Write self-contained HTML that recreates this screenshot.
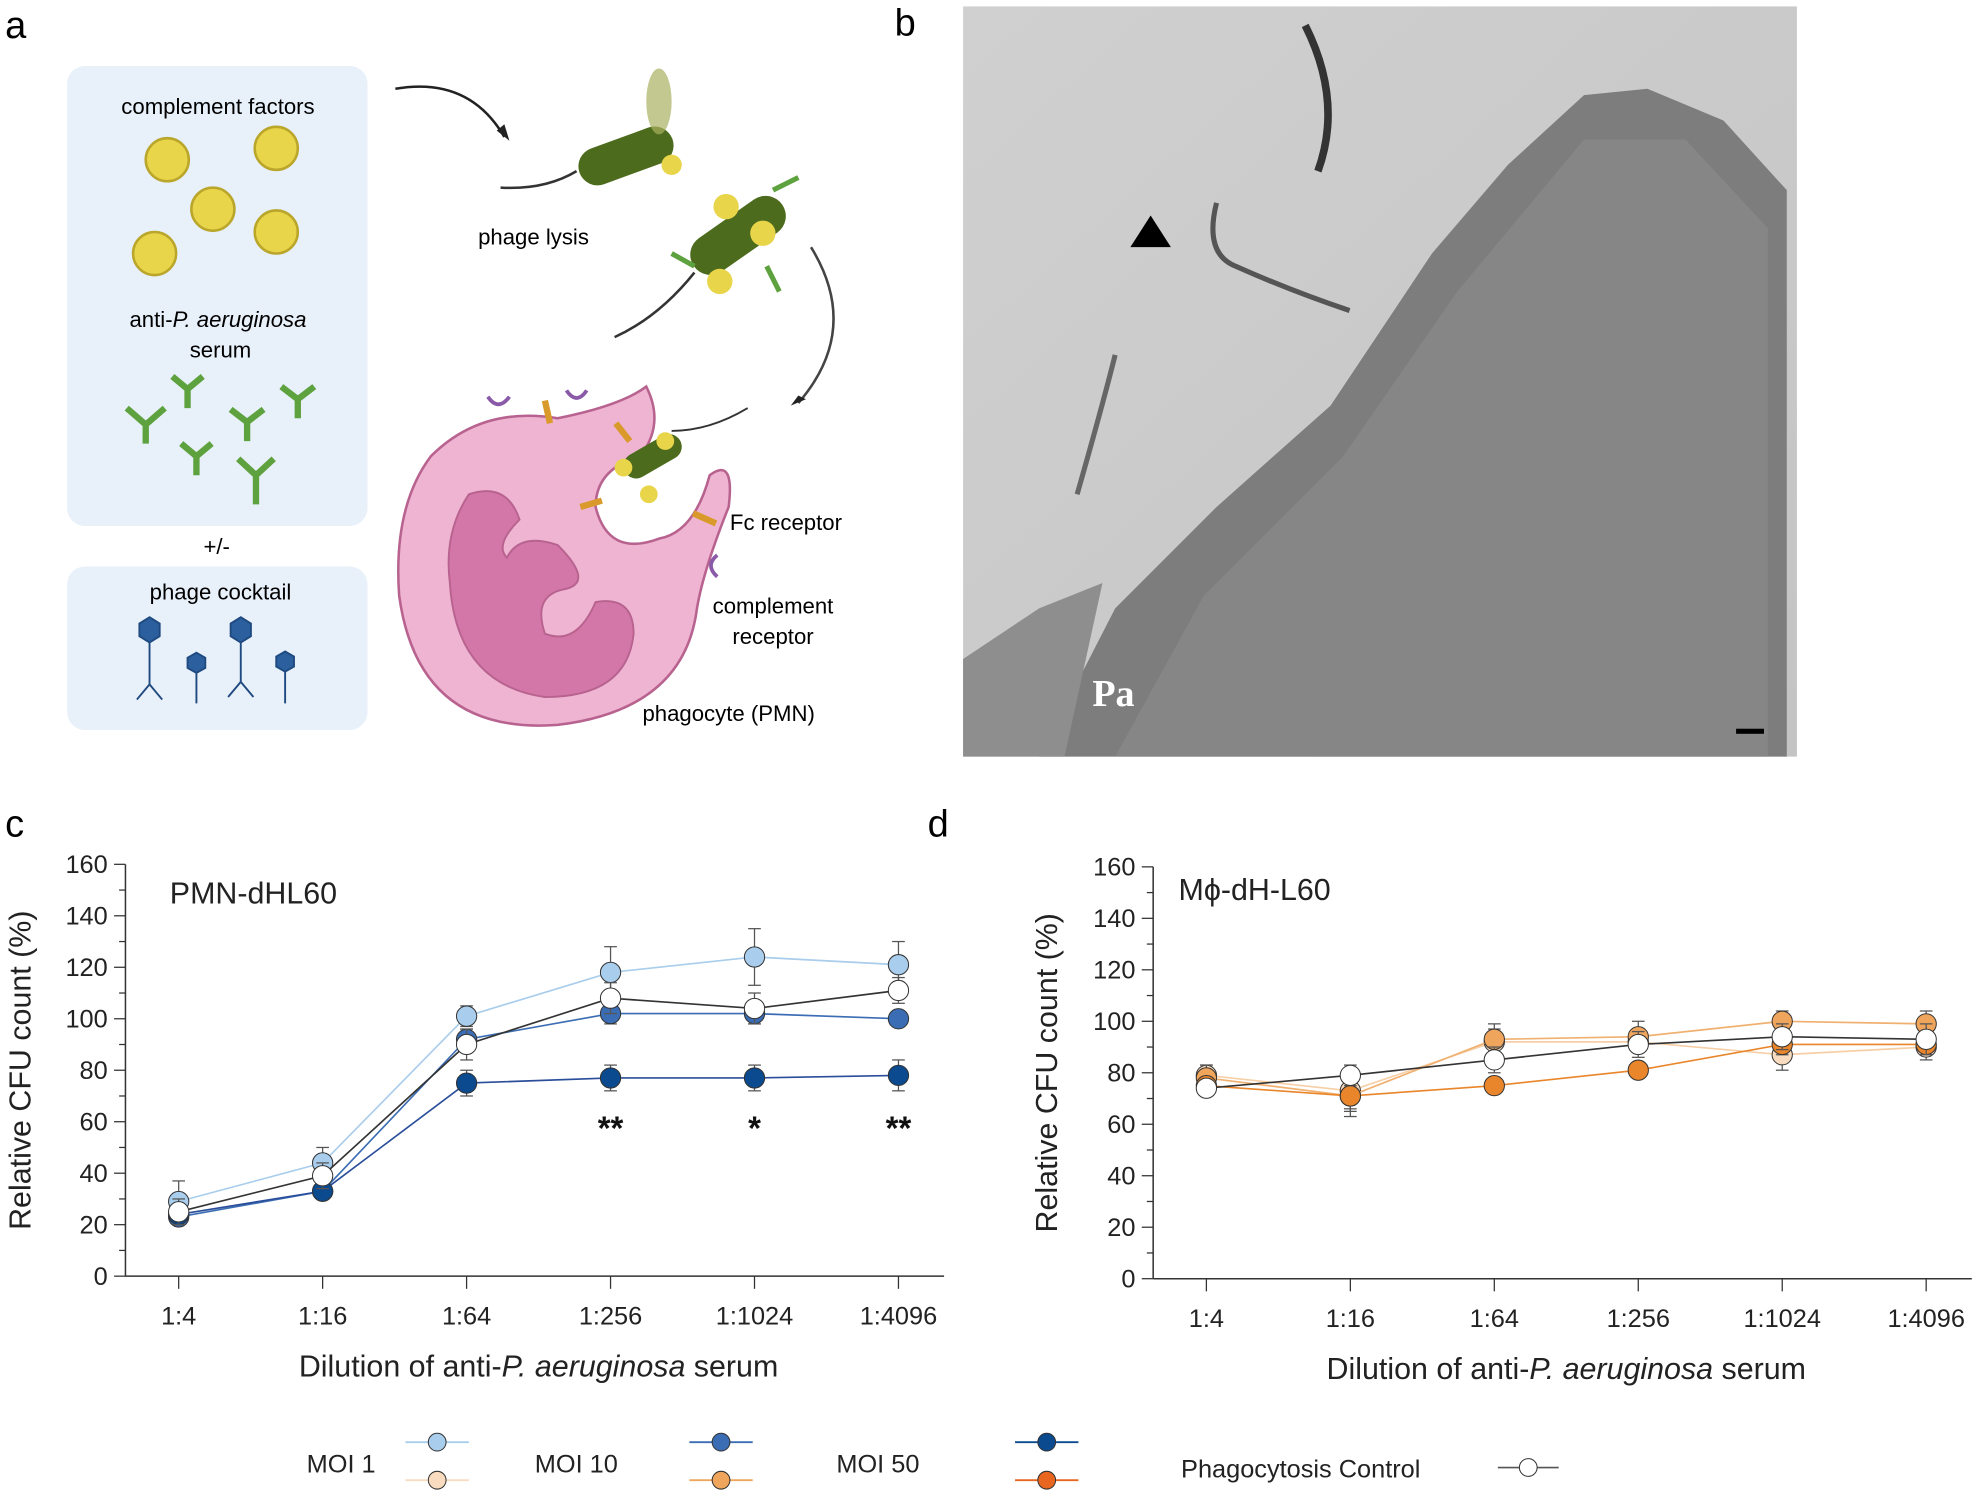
<!DOCTYPE html>
<html><head><meta charset="utf-8"><style>
html,body{margin:0;padding:0;background:#fff}
svg{display:block;font-family:"Liberation Sans",Arial,sans-serif}
</style></head><body>
<svg id="fig" width="1987" height="1498" viewBox="0 0 1568 1182" xmlns="http://www.w3.org/2000/svg">
<rect width="1568" height="1182" fill="#fff"/>
<!-- Panel a -->
<g>
<text x="4" y="30" font-size="30">a</text>
<rect x="53" y="52" width="237" height="363" rx="14" fill="#e8f0fa"/>
<rect x="53" y="447" width="237" height="129" rx="14" fill="#e8f0fa"/>
<text x="172" y="90" font-size="17.5" text-anchor="middle">complement factors</text>
<g fill="#e8d54a" stroke="#b9a62a" stroke-width="2">
<circle cx="132" cy="126" r="17"/><circle cx="218" cy="117" r="17"/><circle cx="168" cy="165" r="17"/><circle cx="218" cy="183" r="17"/><circle cx="122" cy="200" r="17"/></g>
<text x="172" y="258" font-size="17.5" text-anchor="middle">anti-<tspan font-style="italic">P. aeruginosa</tspan></text>
<text x="174" y="282" font-size="17.5" text-anchor="middle">serum</text>
<g stroke="#5da23e" stroke-width="5" fill="none">
<path d="M115 350 L115 335 L100 322 M115 335 L130 322"/><path d="M148 322 L148 307 L136 297 M148 307 L160 297"/><path d="M195 348 L195 333 L182 323 M195 333 L208 323"/><path d="M235 330 L235 315 L222 305 M235 315 L248 305"/><path d="M155 375 L155 360 L143 350 M155 360 L167 350"/><path d="M202 398 L202 375 L188 362 M202 375 L216 362"/></g>
<text x="171" y="437" font-size="17.5" text-anchor="middle">+/-</text>
<text x="174" y="473" font-size="17.5" text-anchor="middle">phage cocktail</text>
<g fill="#2c5f9e" stroke="#1f4a80" stroke-width="1.5">
<polygon points="118,487 126,492 126,502 118,507 110,502 110,492"/><line x1="118" y1="507" x2="118" y2="540"/><path d="M118 540 L108 552 M118 540 L128 552" fill="none"/>
<polygon points="155,515 162,519 162,527 155,531 148,527 148,519"/><line x1="155" y1="531" x2="155" y2="555"/>
<polygon points="190,487 198,492 198,502 190,507 182,502 182,492"/><line x1="190" y1="507" x2="190" y2="538"/><path d="M190 538 L180 550 M190 538 L200 550" fill="none"/>
<polygon points="225,514 232,518 232,526 225,530 218,526 218,518"/><line x1="225" y1="530" x2="225" y2="555"/></g>
<path d="M312 70 Q370 60 398 108" stroke="#222" stroke-width="2" fill="none"/>
<polygon points="392,103 402,111 398,98" fill="#222"/>
<path d="M640 195 Q680 260 630 318" stroke="#444" stroke-width="2" fill="none"/>
<polygon points="624,320 636,315 630,312" fill="#222"/>
<g>
<rect x="455" y="108" width="78" height="30" rx="15" fill="#4d6b1c" transform="rotate(-20 494 123)"/>
<path d="M455 135 Q430 150 395 148" stroke="#333" stroke-width="2" fill="none"/>
<ellipse cx="520" cy="80" rx="10" ry="26" fill="#a8b060" opacity="0.7"/>
<circle cx="530" cy="130" r="8" fill="#e8d54a"/>
</g>
<text x="421" y="193" font-size="17.5" text-anchor="middle">phage lysis</text>
<g>
<rect x="540" y="170" width="85" height="32" rx="16" fill="#4d6b1c" transform="rotate(-35 582 186)"/>
<path d="M548 215 Q520 250 485 266" stroke="#333" stroke-width="2" fill="none"/>
<circle cx="573" cy="163" r="10" fill="#e8d54a"/><circle cx="602" cy="184" r="10" fill="#e8d54a"/><circle cx="568" cy="222" r="10" fill="#e8d54a"/>
<g stroke="#5da23e" stroke-width="4" fill="none"><path d="M530 200 L548 210 M610 150 L630 140 M605 210 L615 230"/></g>
</g>
<g>
<path d="M340 360 Q380 320 440 330 Q490 320 510 305 Q525 335 505 360 Q470 370 470 400 Q480 440 520 425 Q548 420 560 375 Q580 360 575 400 Q555 450 550 480 Q540 560 440 572 Q330 580 315 470 Q310 400 340 360 Z" fill="#eeb4d1" stroke="#b8628f" stroke-width="2"/>
<path d="M370 390 Q350 420 355 460 Q360 540 430 550 Q495 550 500 500 Q500 470 470 475 Q455 510 430 500 Q420 470 445 465 Q470 460 440 430 Q410 420 400 440 Q390 430 410 410 Q400 380 370 390 Z" fill="#d277a8" stroke="#b8628f" stroke-width="1.5"/>
<rect x="490" y="350" width="50" height="20" rx="10" fill="#4d6b1c" transform="rotate(-30 515 360)"/>
<circle cx="492" cy="369" r="7" fill="#e8d54a"/><circle cx="525" cy="348" r="7" fill="#e8d54a"/><circle cx="512" cy="390" r="7" fill="#e8d54a"/>
<path d="M530 340 Q560 340 590 322" stroke="#333" stroke-width="1.5" fill="none"/>
<g stroke="#d99a2b" stroke-width="5"><line x1="430" y1="316" x2="434" y2="334"/><line x1="458" y1="400" x2="475" y2="395"/><line x1="547" y1="405" x2="565" y2="413"/><line x1="486" y1="334" x2="497" y2="348"/></g>
<g stroke="#8a5aa8" stroke-width="3" fill="none"><path d="M385 313 Q393 325 402 313"/><path d="M447 308 Q455 320 463 308"/><path d="M566 438 Q556 446 566 455"/></g>
</g>
<text x="576" y="418" font-size="17.5">Fc receptor</text>
<text x="610" y="484" font-size="17.5" text-anchor="middle">complement</text>
<text x="610" y="508" font-size="17.5" text-anchor="middle">receptor</text>
<text x="575" y="569" font-size="17.5" text-anchor="middle">phagocyte (PMN)</text>
</g>
<!-- Panel b -->
<g>
<text x="706" y="28" font-size="30">b</text>
<defs><linearGradient id="emg" x1="0" y1="0" x2="1" y2="1"><stop offset="0" stop-color="#d0d0d0"/><stop offset="1" stop-color="#c4c4c4"/></linearGradient></defs>
<rect x="760" y="5" width="658" height="592" fill="url(#emg)"/>
<polygon points="820,597 880,480 960,400 1050,320 1130,200 1190,130 1250,75 1300,70 1360,95 1410,150 1410,597" fill="#7d7d7d"/>
<polygon points="760,597 760,520 820,480 870,460 840,597" fill="#8e8e8e"/>
<polygon points="880,597 950,470 1060,360 1150,230 1250,110 1330,110 1395,180 1395,597" fill="#8a8a8a" opacity="0.7"/>
<path d="M1030 20 Q1060 80 1040 135" stroke="#333" stroke-width="6" fill="none"/>
<path d="M960 160 Q950 200 975 210 Q1020 230 1065 245" stroke="#555" stroke-width="4" fill="none"/>
<path d="M880 280 Q870 320 850 390" stroke="#666" stroke-width="4" fill="none"/>
<polygon points="892,195 924,195 908,170" fill="#000"/>
<text x="862" y="557" font-size="30" font-weight="bold" fill="#fff" font-family="Liberation Serif,serif">Pa</text>
<rect x="1370" y="575" width="22" height="4" fill="#000"/>
</g>
<text x="4" y="660" font-size="30">c</text>
<text x="732" y="660" font-size="30">d</text>
<g id="chartC"></g>
<g id="chartD"></g>
<g id="legend"></g>
</svg>
<script>
const categories = ["1:4","1:16","1:64","1:256","1:1024","1:4096"];
const yTicks = [0,20,40,60,80,100,120,140,160];
const c_moi1 = [29,44,101,118,124,121];
const c_moi1_err = [8,6,4,10,11,9];
const c_moi10 = [23,33,92,102,102,100];
const c_moi10_err = [3,3,4,4,4,3];
const c_moi50 = [24,33,75,77,77,78];
const c_moi50_err = [3,3,5,5,5,6];
const c_ctrl = [25,39,90,108,104,111];
const c_ctrl_err = [5,5,6,6,6,5];
const c_stars = ["","","","**","*","**"];
const d_moi1 = [79,73,92,92,87,90];
const d_moi1_err = [4,8,5,4,6,5];
const d_moi10 = [78,71,93,94,100,99];
const d_moi10_err = [5,8,6,6,4,5];
const d_moi50 = [75,71,75,81,91,91];
const d_moi50_err = [3,5,3,3,4,4];
const d_ctrl = [74,79,85,91,94,93];
const d_ctrl_err = [3,4,5,5,5,6];

const NS="http://www.w3.org/2000/svg";
function mk(tag, attrs, parent){const e=document.createElementNS(NS,tag);for(const k in attrs)e.setAttribute(k,attrs[k]);parent.appendChild(e);return e;}

function drawChart(g, cfg){
  const xs = i => cfg.x0 + i*(cfg.x5-cfg.x0)/(categories.length-1);
  const ys = v => cfg.y0 - v*(cfg.y0-cfg.y160)/160;
  const ax = mk('line',{x1:cfg.ax,y1:cfg.y160,x2:cfg.ax,y2:cfg.y0,stroke:'#333','stroke-width':1.2},g);
  
  
  const bx = mk('line',{x1:cfg.ax,y1:cfg.y0,x2:cfg.xend,y2:cfg.y0,stroke:'#333','stroke-width':1.2},g);
  
  
  for(let v=0; v<=160; v+=10){
    const major = v%20===0;
    mk('line',{x1:cfg.ax-(major?9:5),y1:ys(v),x2:cfg.ax,y2:ys(v),stroke:'#333','stroke-width':1},g);
  }
  yTicks.forEach(v=>{
    const t = mk('text',{x:cfg.ax-14,y:ys(v)+7,'font-size':20,'text-anchor':'end',fill:'#222'},g);
    t.textContent=v;
    
    
  });
  categories.forEach((c,i)=>{
    mk('line',{x1:xs(i),y1:cfg.y0,x2:xs(i),y2:cfg.y0+10,stroke:'#333','stroke-width':1},g);
    const t = mk('text',{x:xs(i),y:cfg.y0+38,'font-size':20,'text-anchor':'middle',fill:'#222'},g);
    t.textContent=c;
    
    
  });
  const yt = mk('text',{x:0,y:0,'font-size':24,'text-anchor':'middle',transform:`translate(${cfg.ytx},${(cfg.y0+cfg.y160)/2}) rotate(-90)`,fill:'#222'},g);
  yt.textContent='Relative CFU count (%)';
  
  
  const xt = mk('text',{x:cfg.xtx,y:cfg.y0+79,'font-size':24,'text-anchor':'middle',fill:'#222'},g);
  xt.innerHTML='Dilution of anti-<tspan font-style="italic">P. aeruginosa</tspan> serum';
  
  
  const ti = mk('text',{x:cfg.titleX,y:cfg.titleY,'font-size':24,fill:'#222'},g);
  ti.textContent=cfg.title;
  
  
  cfg.series.forEach(s=>{
    const sg = mk('g',{},g);
    
    
    s.vals.forEach((v,i)=>{
      const e=s.err[i];
      mk('line',{x1:xs(i),y1:ys(v-e),x2:xs(i),y2:ys(v+e),stroke:'#555','stroke-width':1},sg);
      mk('line',{x1:xs(i)-5,y1:ys(v+e),x2:xs(i)+5,y2:ys(v+e),stroke:'#555','stroke-width':1},sg);
      mk('line',{x1:xs(i)-5,y1:ys(v-e),x2:xs(i)+5,y2:ys(v-e),stroke:'#555','stroke-width':1},sg);
    });
    mk('polyline',{points:s.vals.map((v,i)=>xs(i)+','+ys(v)).join(' '),fill:'none',stroke:s.line,'stroke-width':1.3},sg);
    s.vals.forEach((v,i)=>{
      const p = mk('circle',{cx:xs(i),cy:ys(v),r:8,fill:s.fill,stroke:'#333','stroke-width':0.8},sg);
      
      
    });
  });
  if(cfg.stars){
    cfg.stars.forEach((s,i)=>{ if(!s) return;
      const t = mk('text',{x:xs(i),y:cfg.y0-108,'font-size':26,'font-weight':'bold','text-anchor':'middle',fill:'#111'},g);
      t.textContent=s;
      
      
    });
  }
}
drawChart(document.getElementById('chartC'),{ax:99,y0:1007,y160:682,x0:141,x5:709,xend:745,ytx:24,xtx:425,titleX:134,titleY:713,title:'PMN-dHL60',stars:c_stars,
 series:[
  {name:'series-moi1',vals:c_moi1,err:c_moi1_err,fill:'#a9cdec',line:'#a9cdec'},
  {name:'series-moi10',vals:c_moi10,err:c_moi10_err,fill:'#3b6db4',line:'#3b6db4'},
  {name:'series-moi50',vals:c_moi50,err:c_moi50_err,fill:'#0b4a8e',line:'#2b4e9a'},
  {name:'series-control',vals:c_ctrl,err:c_ctrl_err,fill:'#ffffff',line:'#333'}]});
drawChart(document.getElementById('chartD'),{ax:910,y0:1009,y160:684,x0:952,x5:1520,xend:1556,ytx:834,xtx:1236,titleX:930,titleY:710,title:'Mϕ-dH-L60',stars:null,
 series:[
  {name:'series-moi1',vals:d_moi1,err:d_moi1_err,fill:'#f9dcbf',line:'#f6cfa6'},
  {name:'series-moi10',vals:d_moi10,err:d_moi10_err,fill:'#efa55c',line:'#f0b070'},
  {name:'series-moi50',vals:d_moi50,err:d_moi50_err,fill:'#e9852a',line:'#e9852a'},
  {name:'series-control',vals:d_ctrl,err:d_ctrl_err,fill:'#ffffff',line:'#333'}]});

const legendLabels = ["MOI 1","MOI 10","MOI 50"];
const lg=document.getElementById('legend');
const legX=[242,422,660], legM=[345,569,826];
const blues=['#a9cdec','#3b6db4','#0b4a8e'], oranges=['#f9dcbf','#efa55c','#e8661f'];
legendLabels.forEach((l,i)=>{
  const t=mk('text',{x:legX[i],y:1162,'font-size':20,fill:'#222'},lg);
  t.textContent=l;
  
  
  [[1138,blues[i]],[1168,oranges[i]]].forEach(([y,c])=>{
    mk('line',{x1:legM[i]-25,y1:y,x2:legM[i]+25,y2:y,stroke:c,'stroke-width':1.5},lg);
    const m=mk('circle',{cx:legM[i],cy:y,r:7,fill:c,stroke:'#333','stroke-width':0.8},lg);
    
    
  });
});
const pc=mk('text',{x:932,y:1166,'font-size':20,fill:'#222'},lg);
pc.textContent='Phagocytosis Control';


mk('line',{x1:1182,y1:1158,x2:1230,y2:1158,stroke:'#555','stroke-width':1.3},lg);
const pm=mk('circle',{cx:1206,cy:1158,r:7,fill:'#fff',stroke:'#333','stroke-width':0.8},lg);


</script>
</body></html>
